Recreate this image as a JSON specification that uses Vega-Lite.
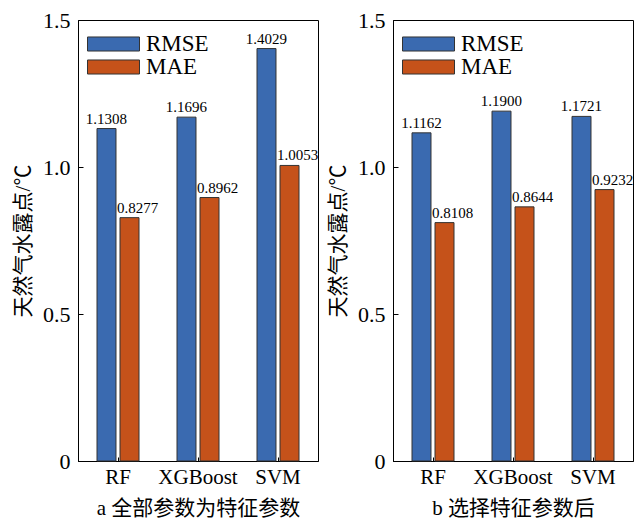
{
  "$schema": "https://vega.github.io/schema/vega-lite/v6.json",
  "background": "white",
  "padding": {"left": 12, "top": 8, "right": 2, "bottom": 0},
  "config": {
    "font": "Liberation Serif, Noto Sans CJK SC",
    "view": {"stroke": "black", "strokeWidth": 1},
    "axis": {"grid": false, "domainColor": "black", "tickColor": "black", "labelColor": "black", "titleColor": "black", "labelFont": "Liberation Serif, Noto Sans CJK SC", "titleFont": "Liberation Serif, Noto Sans CJK SC", "titleFontWeight": "normal"},
    "legend": {"labelFont": "Liberation Serif", "labelColor": "black"}
  },
  "data": {"values": [
    {"panel": "a", "model": "RF", "metric": "RMSE", "value": 1.1308},
    {"panel": "a", "model": "RF", "metric": "MAE", "value": 0.8277},
    {"panel": "a", "model": "XGBoost", "metric": "RMSE", "value": 1.1696},
    {"panel": "a", "model": "XGBoost", "metric": "MAE", "value": 0.8962},
    {"panel": "a", "model": "SVM", "metric": "RMSE", "value": 1.4029},
    {"panel": "a", "model": "SVM", "metric": "MAE", "value": 1.0053},
    {"panel": "b", "model": "RF", "metric": "RMSE", "value": 1.1162},
    {"panel": "b", "model": "RF", "metric": "MAE", "value": 0.8108},
    {"panel": "b", "model": "XGBoost", "metric": "RMSE", "value": 1.19},
    {"panel": "b", "model": "XGBoost", "metric": "MAE", "value": 0.8644},
    {"panel": "b", "model": "SVM", "metric": "RMSE", "value": 1.1721},
    {"panel": "b", "model": "SVM", "metric": "MAE", "value": 0.9232}
  ]},
  "spacing": 8,
  "resolve": {"scale": {"color": "independent", "y": "independent", "x": "independent", "xOffset": "independent"}, "legend": {"color": "independent"}},
  "hconcat": [
    {
      "width": 240, "height": 441,
      "transform": [{"filter": "datum.panel == 'a'"}],
      "encoding": {
        "x": {"field": "model", "type": "nominal", "sort": ["RF", "XGBoost", "SVM"], "scale": {"paddingInner": 0.475, "paddingOuter": 0.2375},
          "axis": {"title": "a 全部参数为特征参数", "labelAngle": 0, "labelFontSize": 21, "titleFontSize": 21, "tickSize": -4, "labelPadding": 9, "titlePadding": 10}},
        "xOffset": {"field": "metric", "sort": ["RMSE", "MAE"], "scale": {"paddingInner": 0.174, "paddingOuter": 0}},
        "y": {"field": "value", "type": "quantitative", "scale": {"domain": [0, 1.5]},
          "axis": {"title": "天然气水露点/℃", "values": [0, 0.5, 1, 1.5], "labelExpr": "datum.value == 0 ? '0' : format(datum.value, '.1f')", "labelFontSize": 22, "titleFontSize": 21, "tickSize": -5, "labelPadding": 13, "titlePadding": 9}}
      },
      "layer": [
        {"mark": {"type": "bar", "stroke": "#333333", "strokeWidth": 1},
          "encoding": {"color": {"field": "metric", "type": "nominal", "sort": ["RMSE", "MAE"], "scale": {"domain": ["RMSE", "MAE"], "range": ["#3A6AB0", "#C5521A"]},
            "legend": {"orient": "none", "legendX": 9, "legendY": 15, "title": null, "symbolType": "M-1,-0.27H1V0.27H-1Z", "symbolSize": 2704, "symbolStrokeColor": "#333333", "symbolStrokeWidth": 1, "symbolOpacity": 1, "labelFontSize": 23, "labelOffset": 6, "rowPadding": 0, "clipHeight": 18}}}},
        {"transform": [{"filter": "datum.metric == 'RMSE'"}], "mark": {"type": "text", "baseline": "alphabetic", "dy": -5, "fontSize": 15, "font": "Liberation Serif"}, "encoding": {"text": {"field": "value", "format": ".4f"}}},
        {"transform": [{"filter": "datum.metric == 'MAE'"}], "mark": {"type": "text", "baseline": "alphabetic", "dy": -5, "dx": 8, "fontSize": 15, "font": "Liberation Serif"}, "encoding": {"text": {"field": "value", "format": ".4f"}}}
      ]
    },
    {
      "width": 240, "height": 441,
      "transform": [{"filter": "datum.panel == 'b'"}],
      "encoding": {
        "x": {"field": "model", "type": "nominal", "sort": ["RF", "XGBoost", "SVM"], "scale": {"paddingInner": 0.475, "paddingOuter": 0.2375},
          "axis": {"title": "b 选择特征参数后", "labelAngle": 0, "labelFontSize": 21, "titleFontSize": 21, "tickSize": -4, "labelPadding": 9, "titlePadding": 10}},
        "xOffset": {"field": "metric", "sort": ["RMSE", "MAE"], "scale": {"paddingInner": 0.174, "paddingOuter": 0}},
        "y": {"field": "value", "type": "quantitative", "scale": {"domain": [0, 1.5]},
          "axis": {"title": "天然气水露点/℃", "values": [0, 0.5, 1, 1.5], "labelExpr": "datum.value == 0 ? '0' : format(datum.value, '.1f')", "labelFontSize": 22, "titleFontSize": 21, "tickSize": -5, "labelPadding": 13, "titlePadding": 9}}
      },
      "layer": [
        {"mark": {"type": "bar", "stroke": "#333333", "strokeWidth": 1},
          "encoding": {"color": {"field": "metric", "type": "nominal", "sort": ["RMSE", "MAE"], "scale": {"domain": ["RMSE", "MAE"], "range": ["#3A6AB0", "#C5521A"]},
            "legend": {"orient": "none", "legendX": 9, "legendY": 15, "title": null, "symbolType": "M-1,-0.27H1V0.27H-1Z", "symbolSize": 2704, "symbolStrokeColor": "#333333", "symbolStrokeWidth": 1, "symbolOpacity": 1, "labelFontSize": 23, "labelOffset": 6, "rowPadding": 0, "clipHeight": 18}}}},
        {"transform": [{"filter": "datum.metric == 'RMSE'"}], "mark": {"type": "text", "baseline": "alphabetic", "dy": -5, "fontSize": 15, "font": "Liberation Serif"}, "encoding": {"text": {"field": "value", "format": ".4f"}}},
        {"transform": [{"filter": "datum.metric == 'MAE'"}], "mark": {"type": "text", "baseline": "alphabetic", "dy": -5, "dx": 8, "fontSize": 15, "font": "Liberation Serif"}, "encoding": {"text": {"field": "value", "format": ".4f"}}}
      ]
    }
  ]
}
